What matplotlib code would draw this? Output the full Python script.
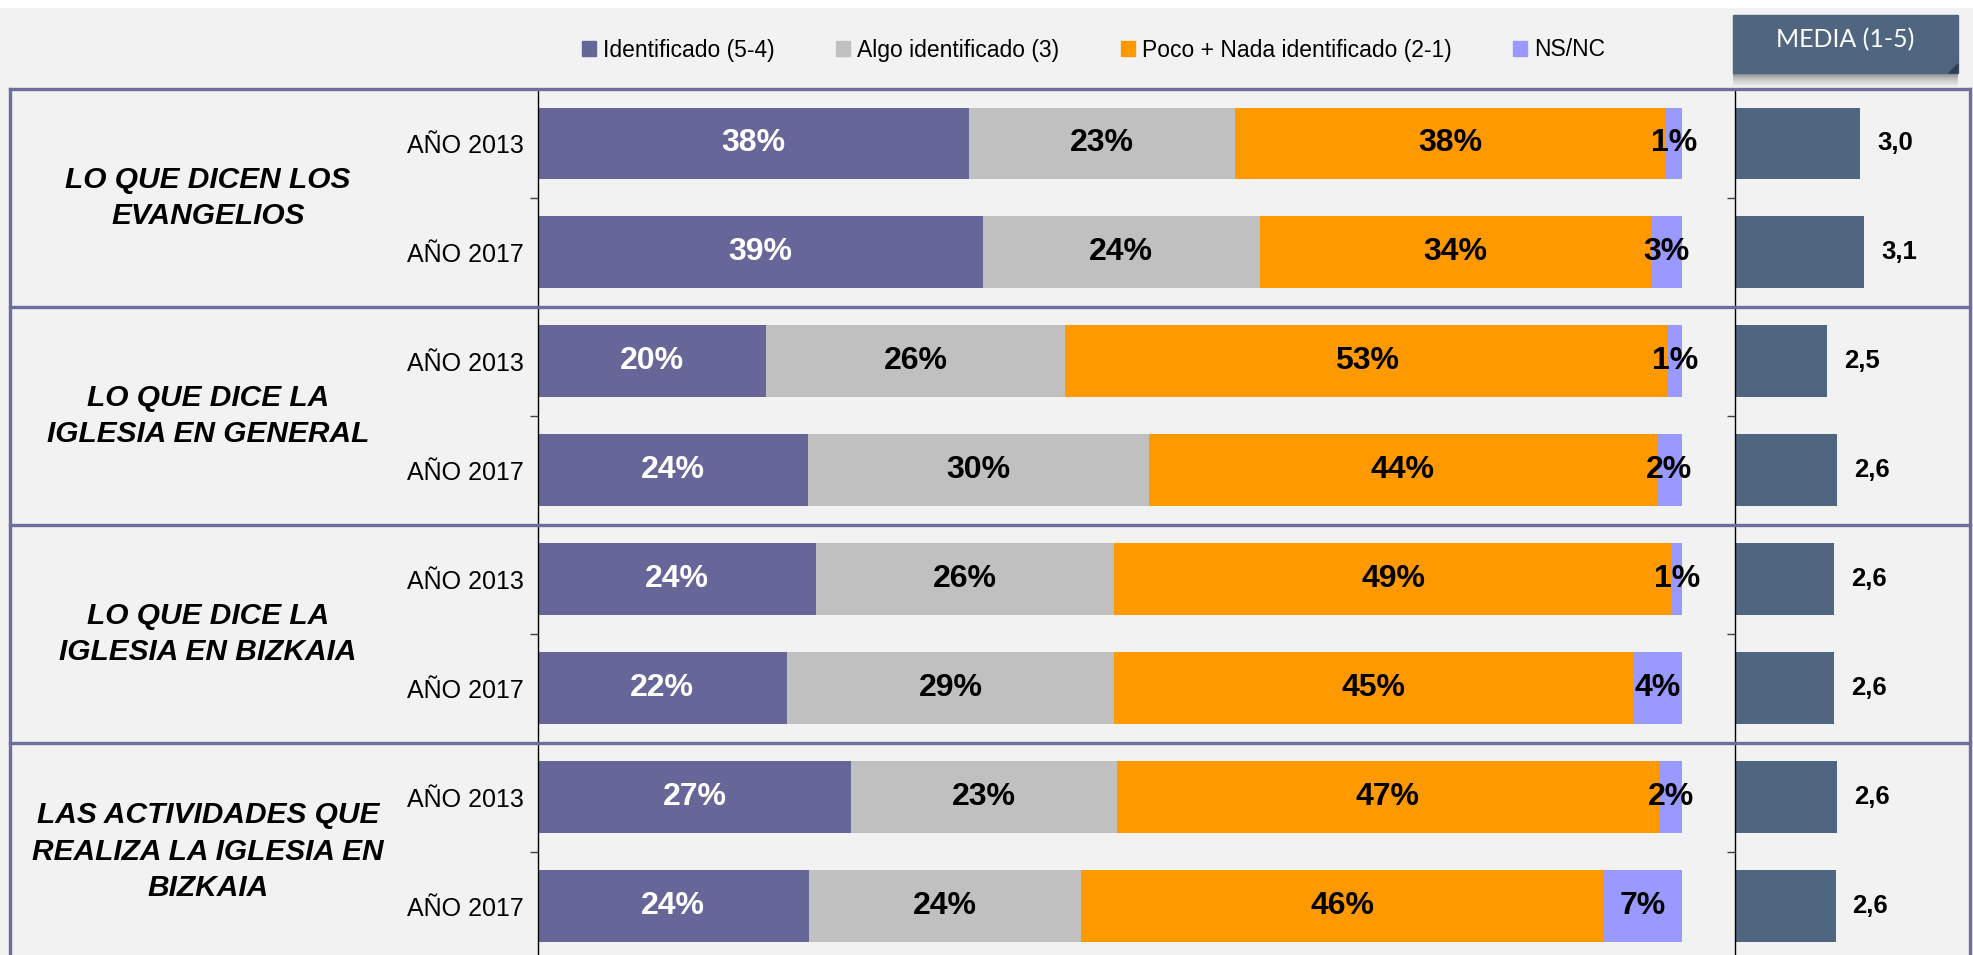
import matplotlib
matplotlib.use('Agg')
import matplotlib.pyplot as plt
import numpy as np
from matplotlib import font_manager, transforms
from matplotlib.patches import Rectangle, Polygon, Patch
from matplotlib.lines import Line2D

names = {f.name for f in font_manager.fontManager.ttflist}
NARROW = 'Liberation Sans Narrow' if 'Liberation Sans Narrow' in names else 'Liberation Sans'
plt.rcParams['font.family'] = [NARROW, 'DejaVu Sans']

# data
groups = ['LO QUE DICEN LOS\nEVANGELIOS',
          'LO QUE DICE LA\nIGLESIA EN GENERAL',
          'LO QUE DICE LA\nIGLESIA EN BIZKAIA',
          'LAS ACTIVIDADES QUE\nREALIZA LA IGLESIA EN\nBIZKAIA']
years = ['AÑO 2013', 'AÑO 2017'] * 4
series = ['Identificado (5-4)', 'Algo identificado (3)',
          'Poco + Nada identificado (2-1)', 'NS/NC']
identificado = [37.7, 38.9, 20.0, 23.6, 24.3, 21.8, 27.4, 23.7]
algo = [23.2, 24.2, 26.1, 29.8, 26.1, 28.6, 23.2, 23.8]
poco = [37.7, 34.2, 52.7, 44.4, 48.7, 45.3, 47.4, 45.6]
nsnc = [1.4, 2.7, 1.2, 2.2, 0.9, 4.3, 2.0, 6.9]
media = [2.99, 3.06, 2.46, 2.62, 2.58, 2.58, 2.62, 2.60]

colors = ['#666699', '#C0C0C0', '#FF9900', '#9999FF']
txt_colors = ['white', 'black', 'black', 'black']
bg = '#F2F2F2'
frame_c = '#6D6D9E'
media_c = '#50657F'

W, H = 1974, 955
fig = plt.figure(figsize=(W / 100, H / 100), dpi=100, facecolor=bg)
fig.add_artist(Rectangle((0, 1 - 7 / H), 1, 7 / H, transform=fig.transFigure,
                         color='white', zorder=0))

bottom = -5.6 / H
height = (H - 89 + 5.6) / H
ax = fig.add_axes([537.6 / W, bottom, (1682 - 537.6) / W, height])
axm = fig.add_axes([1735 / W, bottom, 235 / W, height])

y = np.arange(len(years))
left = np.zeros(len(years))
for vals, c, tc in zip([identificado, algo, poco, nsnc], colors, txt_colors):
    ax.barh(y, vals, left=left, height=0.66, color=c)
    for yi, v, l in zip(y, vals, left):
        ax.text(l + v / 2, yi, f'{v:.0f}%', ha='center', va='center',
                color=tc, fontsize=23, fontweight='bold')
    left = left + np.array(vals)

ax.set_xlim(0, 100)
axm.barh(y, np.array(media) - 1, left=1, height=0.66, color=media_c)
for yi, v in zip(y, media):
    axm.text(v + 0.27, yi, f'{v:.1f}'.replace('.', ','), ha='left', va='center',
             fontsize=18.5, fontweight='bold')
axm.set_xlim(1, 4.74)

for a in (ax, axm):
    a.set_facecolor('none')
    a.set_ylim(7.5, -0.5)
    for s in ('top', 'right', 'bottom'):
        a.spines[s].set_visible(False)
    a.spines['left'].set_linewidth(1)
    a.set_xticks([])
    a.set_yticks(np.arange(0.5, 7, 1), minor=True)
    a.tick_params(axis='y', which='minor', length=6, width=1, color='#404040')
    a.tick_params(axis='y', which='major', length=0)

ax.set_yticks(y)
ax.set_yticklabels(years, fontsize=18)
ax.tick_params(axis='y', which='major', pad=10)
axm.set_yticks([])

# frame and group separators
tr = transforms.blended_transform_factory(fig.transFigure, ax.transData)
for yy in [-0.5, 1.5, 3.5, 5.5]:
    fig.add_artist(Line2D([10 / W, 1970 / W], [yy, yy], transform=tr,
                          color=frame_c, lw=2.4, zorder=5))
for xx in [10 / W, 1970 / W]:
    fig.add_artist(Line2D([xx, xx], [-0.5, 8], transform=tr,
                          color=frame_c, lw=2.4, zorder=5))

for i, g in enumerate(groups):
    fig.text(208 / W, 0, g, transform=tr, ha='center', va='center',
             fontsize=21.5, fontweight='bold', style='italic',
             linespacing=1.38).set_y(2 * i + 0.5)

# legend
handles = [Patch(color=c) for c in colors]
fig.legend(handles, series, loc='center', bbox_to_anchor=(0.554, 1 - 50 / H),
           ncol=4, frameon=False, fontsize=16.5, handlelength=0.6,
           handleheight=0.6, handletextpad=0.3, columnspacing=2.7)

# MEDIA header box
bx0, bx1, by0, by1 = 1733, 1958, 15, 73
shadow = fig.add_axes([bx0 / W, 1 - 90 / H, (bx1 - bx0) / W, 17 / H])
grad = np.linspace(0, 1, 50).reshape(-1, 1)
shadow.imshow(grad, aspect='auto', cmap='Greys_r', vmin=-0.9, vmax=1.05,
              extent=[0, 1, 0, 1], origin='upper')
shadow.set_axis_off()
fig.add_artist(Rectangle((bx0 / W, 1 - by1 / H), (bx1 - bx0) / W, (by1 - by0) / H,
                         transform=fig.transFigure, color=media_c, zorder=3))
fig.add_artist(Polygon([((bx1 - 9) / W, 1 - by1 / H), (bx1 / W, 1 - (by1 - 9) / H),
                        (bx1 / W, 1 - by1 / H)], closed=True,
                       transform=fig.transFigure, color='#2F3E52', zorder=4))
fig.text((bx0 + bx1) / 2 / W, 1 - 40 / H, 'MEDIA (1-5)', ha='center', va='center',
         color='white', fontsize=18, family=['Lato', 'DejaVu Sans'], zorder=6)

fig.savefig('out.png', dpi=100, facecolor=bg)
